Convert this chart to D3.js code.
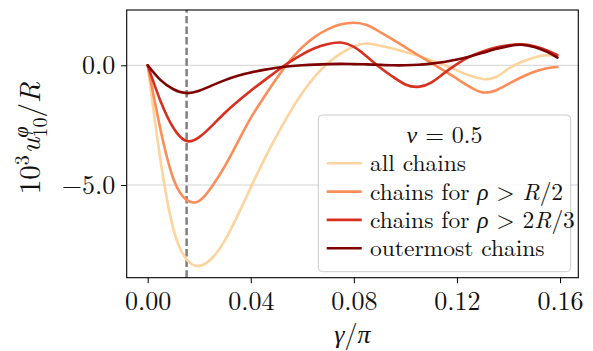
<!DOCTYPE html>
<html>
<head>
<meta charset="utf-8">
<script src="https://cdn.jsdelivr.net/npm/d3@7"></script>
<style>
  body { margin: 0; background: #fff; }
</style>
</head>
<body>
<script>

const width = 593;
const height = 351;
const FONT = "'Latin Modern Roman', 'Liberation Serif', serif";

// gamma / pi sample points
var gammaX = [0, 0.005, 0.01, 0.015, 0.02, 0.025, 0.03, 0.035, 0.04, 0.045, 0.05,
  0.055, 0.06, 0.065, 0.07, 0.075, 0.08, 0.085, 0.09, 0.095, 0.1,
  0.105, 0.11, 0.115, 0.12, 0.125, 0.13, 0.135, 0.14, 0.145, 0.15, 0.155, 0.159];

var allChains = [0, -4.0, -6.85, -8.1, -8.38, -8.05, -7.3, -6.25, -5.1, -3.98, -2.95,
  -2.0, -1.15, -0.45, 0.1, 0.5, 0.79, 0.91, 0.82, 0.7, 0.56,
  0.4, 0.21, 0.01, -0.21, -0.43, -0.57, -0.5, -0.14, 0.14, 0.33, 0.42, 0.37];

var chainsHalf = [0, -2.7, -4.75, -5.62, -5.66, -5.05, -4.2, -3.2, -2.2, -1.35, -0.55,
  0.17, 0.76, 1.2, 1.51, 1.71, 1.78, 1.68, 1.4, 1.08, 0.75,
  0.42, 0.1, -0.22, -0.56, -0.9, -1.13, -1.05, -0.78, -0.5, -0.27, -0.12, -0.07];

var chainsTwoThirds = [0, -1.5, -2.62, -3.16, -3.0, -2.52, -1.98, -1.5, -1.06, -0.65, -0.25,
  0.13, 0.46, 0.72, 0.89, 0.95, 0.77, 0.37, -0.08, -0.47, -0.8,
  -0.9, -0.72, -0.33, 0.05, 0.36, 0.58, 0.74, 0.84, 0.88, 0.8, 0.62, 0.43];

var outermost = [0, -0.62, -1.0, -1.16, -1.06, -0.84, -0.62, -0.44, -0.3, -0.19, -0.1,
  -0.04, 0.0, 0.03, 0.05, 0.06, 0.05, 0.04, 0.02, 0.0, 0.0,
  0.02, 0.07, 0.14, 0.24, 0.37, 0.52, 0.68, 0.8, 0.86, 0.76, 0.56, 0.32];

var seriesNames = ["all chains", "chains for ρ > R/2", "chains for ρ > 2R/3", "outermost chains"];
var seriesColors = ["#fdd49e", "#fc8d59", "#d7301f", "#7f0000"];
var seriesValues = [allChains, chainsHalf, chainsTwoThirds, outermost];

var xTicks = [0, 0.04, 0.08, 0.12, 0.16];
var yTicks = [-5, 0];
var markerX = 0.0151;

const margin = {left: 126.7, right: 593 - 578.3, top: 10, bottom: 351 - 277.7};

const x = d3.scaleLinear()
  .domain([-0.00815, 0.1671])
  .range([margin.left, width - margin.right]);

const y = d3.scaleLinear()
  .domain([-8.872, 2.31])
  .range([height - margin.bottom, margin.top]);

const svg = d3.select("body").append("svg")
  .attr("width", width)
  .attr("height", height)
  .style("font-family", FONT);

// grid lines
svg.append("g")
  .selectAll("line")
  .data(yTicks)
  .enter().append("line")
  .attr("x1", x.range()[0])
  .attr("x2", x.range()[1])
  .attr("y1", d => y(d))
  .attr("y2", d => y(d))
  .attr("stroke", "#d3d3d3")
  .attr("stroke-width", 1);

// dashed marker
svg.append("line")
  .attr("x1", x(markerX))
  .attr("x2", x(markerX))
  .attr("y1", y.range()[0])
  .attr("y2", y.range()[1])
  .attr("stroke", "#808080")
  .attr("stroke-width", 2.5)
  .attr("stroke-dasharray", "7.4,3.2");

var line = d3.line()
  .x((d, i) => x(gammaX[i]))
  .y(d => y(d))
  .curve(d3.curveNatural);

svg.append("g")
  .attr("class", "lines")
  .selectAll("path")
  .data(seriesValues)
  .enter().append("path")
  .attr("d", d => line(d))
  .attr("fill", "none")
  .attr("stroke", (d, i) => seriesColors[i])
  .attr("stroke-width", 2.6)
  .attr("stroke-linecap", "round");

// axes
var xAxis = svg.append("g")
  .attr("transform", "translate(0," + y.range()[0] + ")")
  .call(d3.axisBottom(x).tickValues(xTicks).tickFormat(d3.format(".2f")).tickSize(5.5).tickPadding(8));

var yAxis = svg.append("g")
  .attr("transform", "translate(" + x.range()[0] + ",0)")
  .call(d3.axisLeft(y).tickValues(yTicks).tickFormat(d => d3.format(".1f")(d).replace("-", "\u2212")).tickSize(5.5).tickPadding(6));

[xAxis, yAxis].forEach(function(g) {
  g.attr("font-family", null);
  g.select(".domain").remove();
  g.selectAll(".tick line").attr("stroke", "#000").attr("stroke-width", 1);
  g.selectAll(".tick text")
    .style("font-family", FONT)
    .attr("font-size", 26)
    .attr("fill", "#111");
});

// frame
svg.append("rect")
  .attr("x", x.range()[0])
  .attr("y", y.range()[1])
  .attr("width", x.range()[1] - x.range()[0])
  .attr("height", y.range()[0] - y.range()[1])
  .attr("fill", "none")
  .attr("stroke", "#000")
  .attr("stroke-width", 1.1);

// x label
var xl = svg.append("text")
  .attr("x", (x.range()[0] + x.range()[1]) / 2)
  .attr("y", 343)
  .attr("text-anchor", "middle")
  .attr("font-size", 26)
  .attr("fill", "#111");
xl.append("tspan").attr("font-style", "italic").text("γ");
xl.append("tspan").text("/");
xl.append("tspan").attr("font-style", "italic").text("π");

// y label
var yl = svg.append("text")
  .attr("transform", "translate(40,138) rotate(-90)")
  .attr("text-anchor", "middle")
  .attr("font-size", 29)
  .attr("fill", "#111");
yl.append("tspan").text("10");
yl.append("tspan").attr("font-size", 20).attr("dy", -11).text("3");
yl.append("tspan").attr("font-style", "italic").attr("dy", 11).attr("dx", 2).text("u");
yl.append("tspan").attr("font-style", "italic").attr("font-size", 20).attr("dy", -12).text("φ");
yl.append("tspan").attr("font-size", 20).attr("dy", 19).attr("dx", -11).text("10");
yl.append("tspan").attr("dy", -7).text("/");
yl.append("tspan").attr("font-style", "italic").text("R");

// legend
var legend = svg.append("g");

legend.append("rect")
  .attr("x", 318.3)
  .attr("y", 115)
  .attr("width", 252.4)
  .attr("height", 156.7)
  .attr("rx", 4)
  .attr("fill", "#fff")
  .attr("fill-opacity", 0.85)
  .attr("stroke", "#cccccc")
  .attr("stroke-width", 1);

var title = legend.append("text")
  .attr("x", 444.5)
  .attr("y", 143)
  .attr("text-anchor", "middle")
  .attr("font-size", 24)
  .attr("fill", "#111");
title.append("tspan").attr("font-style", "italic").text("ν");
title.append("tspan").text(" = 0.5");

var entry = legend.selectAll(".entry")
  .data(seriesNames)
  .enter().append("g")
  .attr("class", "entry")
  .attr("transform", (d, i) => "translate(0," + (163.3 + i * 28.3) + ")");

entry.append("line")
  .attr("x1", 326.7)
  .attr("x2", 361.7)
  .attr("stroke", (d, i) => seriesColors[i])
  .attr("stroke-width", 2.6);

entry.append("text")
  .attr("x", 370)
  .attr("y", 8)
  .attr("font-size", 23.5)
  .attr("fill", "#111")
  .each(function(d) {
    var t = d3.select(this);
    var m = d.match(/^(.*)ρ > (.*)R(.*)$/);
    if (!m) { t.text(d); return; }
    t.append("tspan").text(m[1]);
    t.append("tspan").attr("font-style", "italic").text("ρ");
    t.append("tspan").text(" > " + m[2]);
    t.append("tspan").attr("font-style", "italic").text("R");
    t.append("tspan").text(m[3]);
  });

</script>
</body>
</html>
